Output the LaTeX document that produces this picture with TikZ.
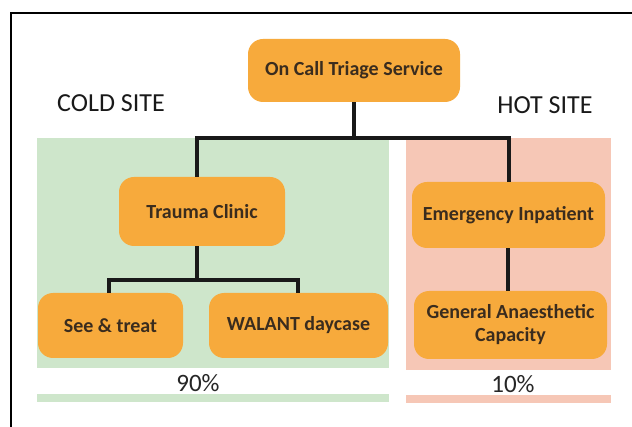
\documentclass[tikz,border=0pt]{standalone}
\usepackage{fontspec}
\setmainfont{Carlito}
\usepackage{tikz}
\usetikzlibrary{positioning}
\definecolor{boxorange}{RGB}{247,170,60}
\definecolor{coldgreen}{RGB}{206,230,203}
\definecolor{hotpink}{RGB}{246,199,182}
\definecolor{boxtext}{RGB}{58,44,30}
\tikzset{unit/.style = {fill=boxorange, rounded corners=15pt, inner sep=0,
                        text=boxtext, font=\fontsize{20}{23}\selectfont\bfseries,
                        align=center},
         link/.style = {line width=4pt, black!90},
         site/.style = {font=\fontsize{26}{28}\selectfont, text=black!90},
         share/.style = {font=\fontsize{25}{27}\selectfont, text=black!85}}

\begin{document}
\begin{tikzpicture}[x=1pt, y=-1pt]
    \useasboundingbox (0, 0) rectangle (632, 427);
    \fill[white] (0, 0) rectangle (632, 427);
    \draw[line width=2.5pt] (11, 427) -- (11, 13) -- (632, 13);

    \fill[coldgreen] (37, 138) rectangle (389, 368);
    \fill[hotpink] (406, 138) rectangle (611, 370);
    \fill[coldgreen] (37, 394) rectangle (389, 402);
    \fill[hotpink] (406, 395) rectangle (611, 403);

    \node [site] (cold) at (111, 103) {COLD SITE};
    \node [site] (hot) at (545, 105) {HOT SITE};
    \node [share] (coldshare) at (198, 383) {90\%};
    \node [share] (hotshare) at (513, 384) {10\%};

    \node [unit, minimum width=212, minimum height=63] (triage) at (354, 70.5) {On Call Triage Service};
    \node [unit, minimum width=166, minimum height=69] (trauma) at (202, 211.5) {Trauma Clinic};
    \node [unit, minimum width=193, minimum height=66] (emerg) at (508.5, 215) {Emergency Inpatient};
    \node [unit, minimum width=145, minimum height=65] (see) at (110.5, 325.5) {See \& treat};
    \node [unit, minimum width=179, minimum height=65] (walant) at (298.5, 325.5) {WALANT daycase};
    \node [unit, minimum width=193, minimum height=68] (ga) at (510.5, 325) {General Anaesthetic\\Capacity};

    \coordinate (hub) at (354, 138);
    \coordinate (fork) at (197, 280);

    \draw [link] (triage) -- (hub);
    \draw [link] ([xshift=-5pt]trauma.north) |- (hub) -| (emerg.north);
    \draw [link] ([xshift=-5pt]trauma.south) -- (fork);
    \draw [link] ([xshift=-2pt]see.north) |- (fork) -| ([xshift=-1pt]walant.north);
    \draw [link] ([xshift=-0.5pt]emerg.south) -- ([xshift=-0.5pt]emerg.south |- ga.north);
\end{tikzpicture}
\end{document}
